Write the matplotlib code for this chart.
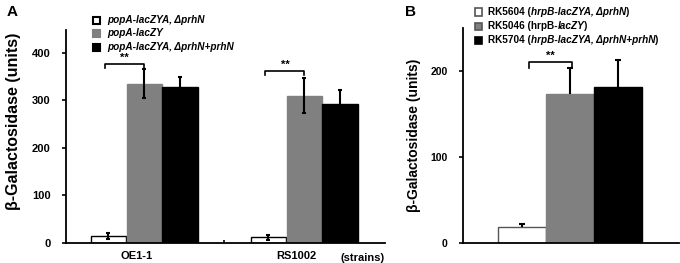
import matplotlib.pyplot as plt
from matplotlib.patches import Rectangle

plt.rcParams['font.family'] = ['Liberation Sans', 'DejaVu Sans']
plt.rcParams['font.weight'] = 'bold'

# panel A data
strains = ['OE1-1', 'RS1002']
a_names = ['popA-lacZYA, ΔprhN', 'popA-lacZY', 'popA-lacZYA, ΔprhN+prhN']
a_means = [[14, 12], [335, 310], [328, 292]]
a_errs = [[6, 5], [30, 37], [22, 30]]
a_sig_y = [377, 362]

# panel B data
b_names = [
    [('RK5604 (', 'normal'), ('hrpB-lacZYA, ΔprhN', 'italic'), (')', 'normal')],
    [('RK5046 (hrpB-', 'normal'), ('lacZY', 'italic'), (')', 'normal')],
    [('RK5704 (', 'normal'), ('hrpB-lacZYA, ΔprhN+prhN', 'italic'), (')', 'normal')],
]
b_means = [19, 173, 181]
b_errs = [3, 30, 32]
b_sig_y = 210

colors = ['white', '#808080', 'black']
W, H = 680, 263


def fx(x):
    return x / W


def fy(y):
    return 1 - y / H


fig = plt.figure(figsize=(6.8, 2.63), dpi=100)

# ---------------- panel A ----------------
axA = fig.add_axes([fx(66), fy(243), fx(385) - fx(66), fy(30) - fy(243)])
offs = [-0.225, 0, 0.222]
bw = 0.22
for i in range(3):
    xs = [g + offs[i] for g in range(len(strains))]
    axA.bar(xs, a_means[i], bw, color=colors[i], edgecolor='black' if i == 0 else colors[i],
            linewidth=1.0)
    axA.errorbar(xs, a_means[i], yerr=a_errs[i], fmt='none', ecolor='black',
                 elinewidth=1.5, capsize=1.5, capthick=1.5)

for g in range(len(strains)):
    x1, x2, y = g + offs[0] - 0.02, g + offs[1], a_sig_y[g]
    axA.plot([x1, x1, x2, x2], [y - 8, y, y, y - 8], color='black', lw=1.2)
    axA.text((x1 + x2) / 2, y + 2, '**', ha='center', va='bottom', fontsize=8)

axA.set_xlim(-0.49, 1.503)
axA.set_ylim(0, 448)
axA.set_yticks([0, 100, 200, 300, 400])
axA.set_xticks([g - 0.05 for g in range(len(strains))])
axA.set_xticklabels(strains, fontsize=8)
axA.set_xticks([0.5], minor=True)
axA.tick_params(axis='x', which='major', length=0, pad=6)
axA.tick_params(axis='x', which='minor', length=2, direction='in', width=1.2)
axA.tick_params(axis='y', labelsize=8, length=3, width=1.2, pad=8)
for s in ['top', 'right']:
    axA.spines[s].set_visible(False)
for s in ['left', 'bottom']:
    axA.spines[s].set_linewidth(1.3)
axA.text(1.503, -0.045 * 448, '(strains)', ha='right', va='top', fontsize=8)

fig.text(fx(12), fy(12), 'A', fontsize=11, ha='center', va='center')
fig.text(fx(14), fy(121), 'β-Galactosidase (units)', rotation=90, fontsize=11.5,
         ha='center', va='center')

for i, name in enumerate(a_names):
    yy = 20 + i * 13.5
    fig.patches.append(Rectangle((fx(93), fy(yy + 3.5)), fx(7), fy(0) - fy(7),
                                 transform=fig.transFigure, facecolor=colors[i],
                                 edgecolor='black' if i == 0 else colors[i], lw=1.5))
    fig.text(fx(107), fy(yy), name, style='italic', fontsize=7.2, va='center')

# ---------------- panel B ----------------
axB = fig.add_axes([fx(463), fy(243), fx(679) - fx(463), fy(28) - fy(243)])
xb = list(range(len(b_means)))
axB.bar(xb, b_means, 1.0, color=colors, edgecolor=['#555555', '#808080', 'black'], linewidth=1.0)
# upper half only, as in the original
tops = [m + e for m, e in zip(b_means, b_errs)]
axB.vlines(xb, b_means, tops, color='black', lw=1.5)
axB.plot(xb, tops, ls='none', marker='_', ms=4, mew=1.5, color='black')
x1, x2 = 0.15, 1.04
axB.plot([x1, x1, x2, x2], [b_sig_y - 6, b_sig_y, b_sig_y, b_sig_y - 6], color='black', lw=1.2)
axB.text((x1 + x2) / 2, b_sig_y + 2, '**', ha='center', va='bottom', fontsize=8)
axB.set_xlim(-1.23, 3.27)
axB.set_ylim(0, 250)
axB.set_yticks([0, 100, 200])
axB.set_xticks([])
axB.tick_params(axis='y', labelsize=7.5, length=3, width=1.2, pad=8)
for s in ['top', 'right']:
    axB.spines[s].set_visible(False)
for s in ['left', 'bottom']:
    axB.spines[s].set_linewidth(1.3)

fig.text(fx(410), fy(12), 'B', fontsize=11, ha='center', va='center')
fig.text(fx(414), fy(135), 'β-Galactosidase (units)', rotation=90, fontsize=10,
         ha='center', va='center')

for i, pieces in enumerate(b_names):
    yy = 12 + i * 14
    fig.patches.append(Rectangle((fx(475), fy(yy + 3.5)), fx(7), fy(0) - fy(7),
                                 transform=fig.transFigure, facecolor=colors[i],
                                 edgecolor=['#555555', '#555555', 'black'][i], lw=1.2))
    prev = fig.text(fx(488), fy(yy), pieces[0][0], style=pieces[0][1], fontsize=7.2, va='center')
    for s, st in pieces[1:]:
        prev = axB.annotate(s, xy=(1, 0), xycoords=prev, va='bottom', ha='left',
                            style=st, fontsize=7.2, annotation_clip=False)

fig.savefig('out.png', dpi=100)
